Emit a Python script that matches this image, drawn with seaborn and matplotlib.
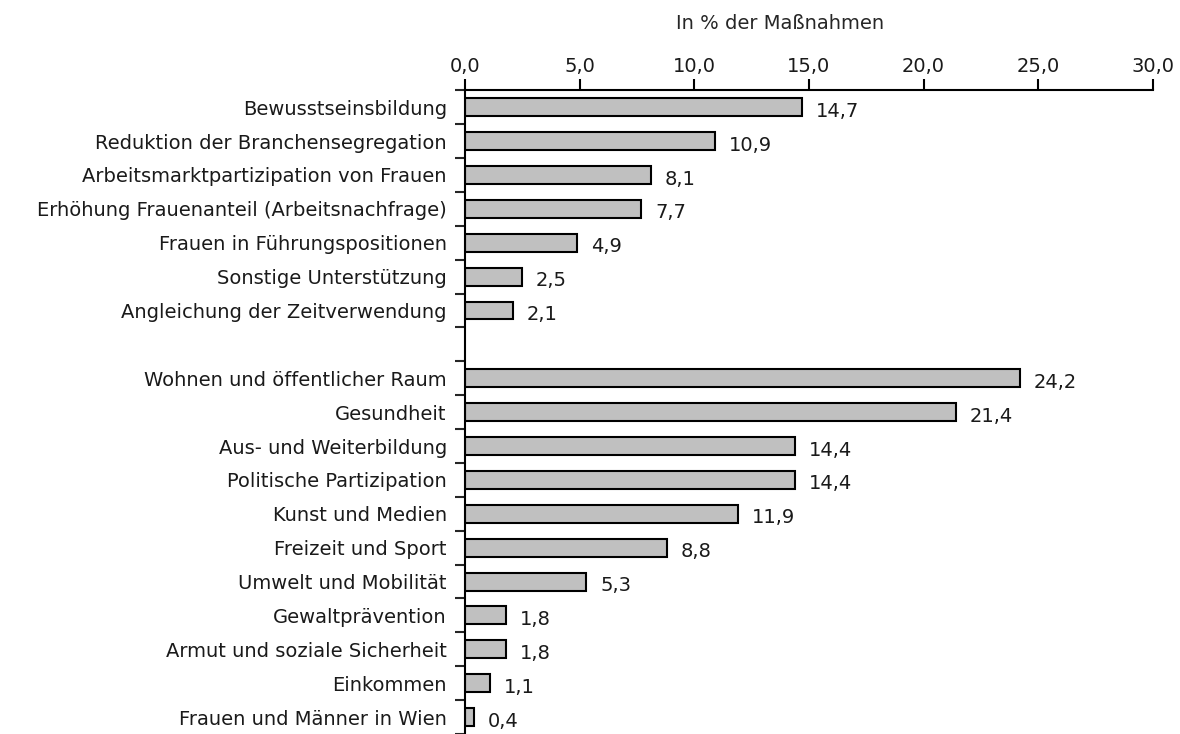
import pandas as pd
import matplotlib
matplotlib.use("Agg")
import matplotlib.pyplot as plt
import seaborn as sb
from matplotlib.ticker import FixedLocator, FuncFormatter

sb.set_style("white")
plt.rcParams['font.family'] = ['DejaVu Sans']

# group 1
labels_a = ['Bewusstseinsbildung', 'Reduktion der Branchensegregation',
            'Arbeitsmarktpartizipation von Frauen',
            'Erhöhung Frauenanteil (Arbeitsnachfrage)',
            'Frauen in Führungspositionen', 'Sonstige Unterstützung',
            'Angleichung der Zeitverwendung']
values_a = [14.7, 10.9, 8.1, 7.7, 4.9, 2.5, 2.1]

# group 2
labels_b = ['Wohnen und öffentlicher Raum', 'Gesundheit', 'Aus- und Weiterbildung',
            'Politische Partizipation', 'Kunst und Medien', 'Freizeit und Sport',
            'Umwelt und Mobilität', 'Gewaltprävention', 'Armut und soziale Sicherheit',
            'Einkommen', 'Frauen und Männer in Wien']
values_b = [24.2, 21.4, 14.4, 14.4, 11.9, 8.8, 5.3, 1.8, 1.8, 1.1, 0.4]

xticks = [0, 5, 10, 15, 20, 25, 30]

df = pd.DataFrame({'Kategorie': labels_a + labels_b, 'Anteil': values_a + values_b})
order = labels_a + [' '] + labels_b

fs = 14

fig = plt.figure(figsize=(11.8, 7.34), dpi=100)
ax = fig.add_axes([0.394, 0.0, 0.583, 0.877])

sb.barplot(data=df, x='Anteil', y='Kategorie', order=order, color='#c0c0c0',
           edgecolor='black', linewidth=1.5, width=0.53, saturation=1, ax=ax)

# value labels
for i, cat in enumerate(order):
    row = df[df['Kategorie'] == cat]
    if len(row) == 0:
        continue
    v = row['Anteil'].iloc[0]
    ax.text(v + 0.6, i + 0.12, f'{v:.1f}'.replace('.', ','), va='center', ha='left',
            fontsize=fs, color='#1a1a1a')

ax.set_xlim(0, 30)
ax.set_ylim(len(order) - 0.5, -0.5)

ax.xaxis.tick_top()
ax.xaxis.set_label_position('top')
ax.set_xticks(xticks)
ax.xaxis.set_major_formatter(FuncFormatter(lambda x, p: f'{x:.1f}'.replace('.', ',')))
ax.set_xlabel('In % der Maßnahmen', fontsize=fs)
ax.xaxis.set_label_coords(0.458, 1.095)
ax.set_ylabel('')

ax.tick_params(axis='x', direction='out', length=8, width=1.5, labelsize=fs, pad=2,
               colors='black', labelcolor='#1a1a1a')
ax.tick_params(axis='y', which='major', length=0, labelsize=fs, pad=13, labelcolor='#1a1a1a')
ax.yaxis.set_minor_locator(FixedLocator([k - 0.5 for k in range(len(order) + 1)]))
ax.tick_params(axis='y', which='minor', direction='out', length=7, width=1.5, left=True)

for s in ['right', 'bottom']:
    ax.spines[s].set_visible(False)
for s in ['top', 'left']:
    ax.spines[s].set_linewidth(1.5)
    ax.spines[s].set_color('black')

fig.savefig('out.png', dpi=100)
